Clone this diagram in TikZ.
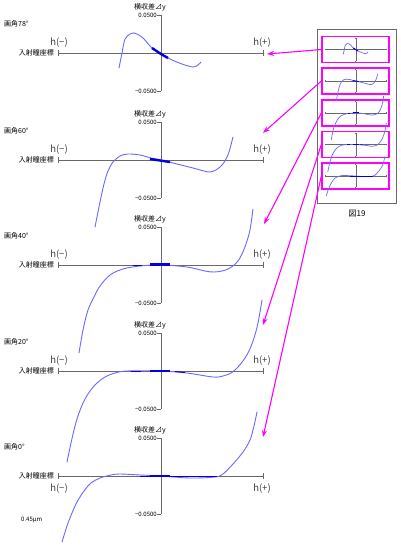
\documentclass[tikz,border=0pt]{standalone}
\usepackage{fontspec}
\setmainfont{Noto Sans CJK JP}
\usetikzlibrary{arrows.meta}
\definecolor{mag}{RGB}{255,0,255}
\definecolor{crv}{RGB}{105,105,255}
\definecolor{crvdark}{RGB}{0,0,225}
\definecolor{axg}{RGB}{105,105,105}
\tikzset{
  crvline/.style={crv, line width=0.9pt, line join=round, line cap=round},
  crvthick/.style={crvdark, line width=2.4pt},
  crvdk/.style={crvdark, line width=1pt},
  axline/.style={axg, line width=0.8pt},
  lbl/.style={inner sep=0pt, font=\fontsize{7}{8}\selectfont},
  numlbl/.style={inner sep=0pt, font=\fontsize{6}{7}\selectfont},
  hlbl/.style={inner sep=0pt, text=black!75, font=\fontsize{9.5}{10}\selectfont},
  magbox/.style={draw=mag, line width=1.3pt, minimum width=67pt, minimum height=26pt, inner sep=0pt},
  magarrow/.style={mag, line width=1.1pt, -{Stealth[length=7pt,width=5pt]}},
  axes/.pic={
    \draw[axline] (-103,0) -- (102,0);
    \draw[axline] (-103,-3) -- (-103,3);
    \draw[axline] (102,-3) -- (102,3);
    \draw[axline] (0,-38) -- (0,38);
    \draw[axline] (-4,-38) -- (0,-38);
    \draw[axline] (-4,38) -- (0,38);
  },
  cA/.pic={
    \draw[crvline] plot[smooth, tension=0.55] coordinates {(-42,15) (-39,0) (-36,-14) (-31,-19) (-28,-20) (-24,-19) (-18,-15) (-9,-5) (0,1) (9,6) (21,11) (32,14) (37,12) (40,9)};
    \draw[crvthick] plot[smooth] coordinates {(-9,-5) (0,1) (7,5)};
  },
  cB/.pic={
    \draw[crvline] plot[smooth, tension=0.55] coordinates {(-66,67) (-61,42) (-57,24) (-53,11) (-48,2) (-41,-4) (-33,-6) (-21,-5) (-10,-2) (0,0) (16,4) (32,8) (43,11) (49,12) (55,10) (59,7) (64,1) (68,-8) (72,-23)};
    \draw[crvthick] (-11,-1) -- (9,2);
  },
  cC/.pic={
    \draw[crvline] plot[smooth, tension=0.55] coordinates {(-82,88) (-78,65) (-73,45) (-67,32) (-61,21) (-51,10) (-38,4) (-21,1) (0,0) (26,2) (44,6) (53,7) (61,6) (67,4) (72,1) (77,-4) (81,-11) (85,-21) (89,-35) (92,-56)};
    \draw[crvdk] (-28,0) -- (-19,0);
    \draw[crvthick] (-11,-0.5) -- (9,-0.5);
  },
  cD/.pic={
    \draw[crvline] plot[smooth, tension=0.55] coordinates {(-94,91) (-90,72) (-86,55) (-82,42) (-77,30) (-71,20) (-64,12) (-56,6) (-46,2) (-34,0) (0,0) (26,2) (52,6) (62,5) (70,2) (76,-3) (82,-10) (88,-20) (93,-33) (97,-48) (101,-71)};
    \draw[crvdk] (-30,0) -- (-20,0);
    \draw[crvdk] (14,0.5) -- (24,1.5);
    \draw[crvthick] (-11,0) -- (9,0);
  },
  cE/.pic={
    \draw[crvline] plot[smooth, tension=0.55] coordinates {(-99,66) (-94,50) (-89,37) (-84,26) (-77,15) (-70,7) (-61,2) (-50,-1) (-41,-2) (-21,-1) (0,0) (29,2) (54,1) (62,-2) (72,-12) (82,-24) (89,-36) (93,-50) (96,-64)};
    \draw[crvdk] (-21,0) -- (56,0);
    \draw[crvthick] (-11,0) -- (9,0);
  },
  mini/.style={scale=0.3,
    crvline/.style={crv, line width=0.7pt, line join=round, line cap=round},
    crvthick/.style={crvdark, line width=1pt},
    crvdk/.style={crvdark, line width=0.6pt},
    axline/.style={axg, line width=0.6pt}},
}
\begin{document}
\begin{tikzpicture}[x=1pt, y=-1pt]
\useasboundingbox[fill=white] (0,0) rectangle (400,547);

% ---------- main panels ----------
\pic at (161,53) {axes};  \pic at (161,53) {cA};
\pic at (161,160) {axes}; \pic at (161,160) {cB};
\pic at (161,265) {axes}; \pic at (161,265) {cC};
\pic at (161,371) {axes}; \pic at (161,371) {cD};
\pic at (161,476) {axes}; \pic at (161,476) {cE};

% labels panel 1
\node[lbl, anchor=east] (t1) at (166,7) {横収差⊿y};
\node[numlbl, anchor=east] (p1) at (157,15) {0.0500};
\node[numlbl, anchor=east] (m1) at (157,91) {−0.0500};
\node[lbl, anchor=east] (e1) at (54,53) {入射瞳座標};
\node[hlbl] (hm1) at (59,43) {h(−)};
\node[hlbl] (hp1) at (262,43) {h(+)};
\node[lbl, anchor=west] (a1) at (4,24) {画角78°};

% labels panel 2
\node[lbl, anchor=east] (t2) at (166,114) {横収差⊿y};
\node[numlbl, anchor=east] (p2) at (157,122) {0.0500};
\node[numlbl, anchor=east] (m2) at (157,198) {−0.0500};
\node[lbl, anchor=east] (e2) at (54,160) {入射瞳座標};
\node[hlbl] (hm2) at (59,150) {h(−)};
\node[hlbl] (hp2) at (262,150) {h(+)};
\node[lbl, anchor=west] (a2) at (4,131) {画角60°};

% labels panel 3
\node[lbl, anchor=east] (t3) at (166,219) {横収差⊿y};
\node[numlbl, anchor=east] (p3) at (157,227) {0.0500};
\node[numlbl, anchor=east] (m3) at (157,303) {−0.0500};
\node[lbl, anchor=east] (e3) at (54,265) {入射瞳座標};
\node[hlbl] (hm3) at (59,255) {h(−)};
\node[hlbl] (hp3) at (262,255) {h(+)};
\node[lbl, anchor=west] (a3) at (4,236) {画角40°};

% labels panel 4
\node[lbl, anchor=east] (t4) at (166,325) {横収差⊿y};
\node[numlbl, anchor=east] (p4) at (157,333) {0.0500};
\node[numlbl, anchor=east] (m4) at (157,409) {−0.0500};
\node[lbl, anchor=east] (e4) at (54,371) {入射瞳座標};
\node[hlbl] (hm4) at (59,361) {h(−)};
\node[hlbl] (hp4) at (262,361) {h(+)};
\node[lbl, anchor=west] (a4) at (4,342) {画角20°};

% labels panel 5
\node[lbl, anchor=east] (t5) at (166,430) {横収差⊿y};
\node[numlbl, anchor=east] (p5) at (157,438) {0.0500};
\node[numlbl, anchor=east] (m5) at (157,514) {−0.0500};
\node[lbl, anchor=east] (e5) at (54,476) {入射瞳座標};
\node[hlbl] (hm5) at (59,489) {h(−)};
\node[hlbl] (hp5) at (262,489) {h(+)};
\node[lbl, anchor=west] (a5) at (4,447) {画角0°};
\node[numlbl, anchor=west] (wl) at (21,520) {0.45μm};

% ---------- inset ----------
\node[draw=axg, line width=0.8pt, fill=white, minimum width=79pt, minimum height=174pt, inner sep=0pt] (frame) at (356.5,116) {};
\node[magbox] (box1) at (355.5,49.5) {};
\node[magbox] (box2) at (355.5,81) {};
\node[magbox] (box3) at (355.5,113) {};
\node[magbox] (box4) at (355.5,144.5) {};
\node[magbox] (box5) at (355.5,176) {};
\pic[mini] at (356,49.5) {axes};  \pic[mini] at (356,49.5) {cA};
\pic[mini] at (356,81) {axes};    \pic[mini] at (356,81) {cB};
\pic[mini] at (356,113) {axes};   \pic[mini] at (356,113) {cC};
\pic[mini] at (356,144.5) {axes}; \pic[mini] at (356,144.5) {cD};
\pic[mini] at (356,176) {axes};   \pic[mini] at (356,176) {cE};
\node[lbl, font=\fontsize{8}{9}\selectfont] (fig) at (357,214) {図19};

% ---------- arrows ----------
\coordinate (tip1) at (267,54);
\coordinate (tip2) at (263,133);
\coordinate (tip3) at (264,224);
\coordinate (tip4) at (263,325);
\coordinate (tip5) at (263,437);
\draw[magarrow] (box1.west) -- (tip1);
\draw[magarrow] (box2.west) -- (tip2);
\draw[magarrow] (box3.west) -- (tip3);
\draw[magarrow] (box4.west) -- (tip4);
\draw[magarrow] (box5.west) -- (tip5);
\end{tikzpicture}
\end{document}
